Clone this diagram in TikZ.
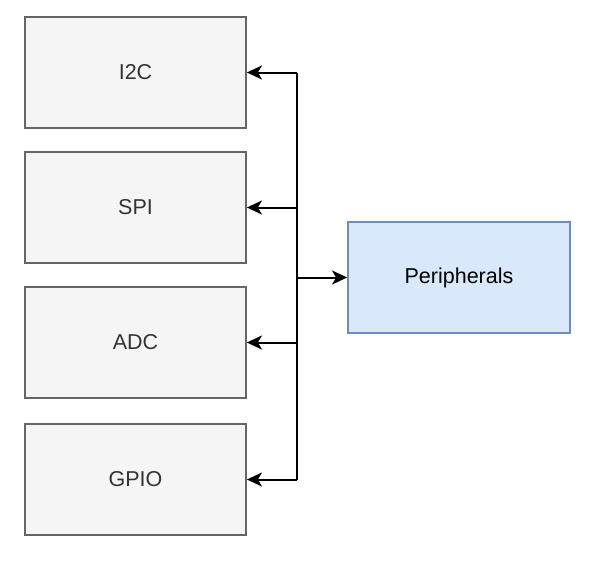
\documentclass[tikz,border=0pt]{standalone}
\usepackage{fontspec}
\setmainfont{Liberation Sans}
\usetikzlibrary{arrows.meta}
\definecolor{grayfill}{HTML}{F5F5F5}
\definecolor{grayline}{HTML}{666666}
\definecolor{graytext}{HTML}{333333}
\definecolor{bluefill}{HTML}{DAE8FC}
\definecolor{blueline}{HTML}{6C8EBF}
\begin{document}
\begin{tikzpicture}[x=1pt,y=-1pt,
  graybox/.style={draw=grayline,fill=grayfill,line width=1.8pt,minimum width=221pt,minimum height=111pt,inner sep=0pt,text=graytext,font=\fontsize{21.5}{25}\selectfont},
  bluebox/.style={draw=blueline,fill=bluefill,line width=1.8pt,minimum width=222pt,minimum height=111pt,inner sep=0pt,text=black,font=\fontsize{21.5}{25}\selectfont},
  conn/.style={line width=2pt,-{Stealth[length=15pt,width=14pt,inset=4pt]}}]
\useasboundingbox (0,0) rectangle (609,584);
\node[graybox] (i2c) at (135.5,72.5) {I2C};
\node[graybox] (spi) at (135.5,207.5) {SPI};
\node[graybox] (adc) at (135.5,342.5) {ADC};
\node[graybox] (gpio) at (135.5,479.5) {GPIO};
\node[bluebox] (per) at (459,277.5) {\raisebox{-2pt}{Peripherals}};
\coordinate (bt) at (297,72.5);
\coordinate (bb) at (297,479.5);
\coordinate (bm) at (297,277.5);
\draw[line width=2pt] (bt) -- (bb);
\draw[conn] (bt) -- (i2c.east);
\draw[conn] (297,207.5) -- (spi.east);
\draw[conn] (297,342.5) -- (adc.east);
\draw[conn] (bb) -- (gpio.east);
\draw[conn] (bm) -- (per.west);
\end{tikzpicture}
\end{document}
